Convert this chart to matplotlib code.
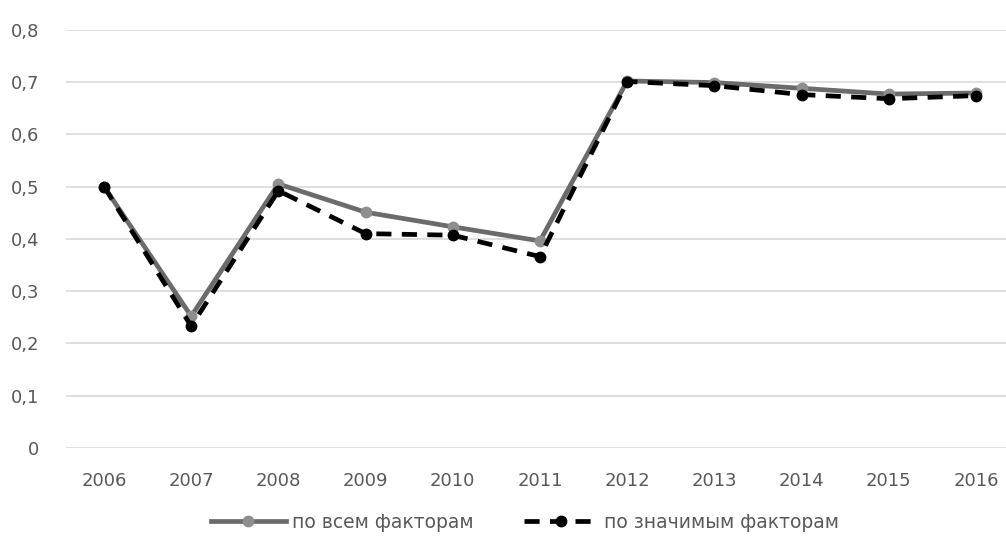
import matplotlib
matplotlib.use("Agg")
import matplotlib.pyplot as plt
from matplotlib.ticker import FuncFormatter

years = ["2006", "2007", "2008", "2009", "2010", "2011",
         "2012", "2013", "2014", "2015", "2016"]
all_factors = [0.500, 0.252, 0.505, 0.451, 0.423, 0.396,
               0.702, 0.699, 0.688, 0.677, 0.679]
significant = [0.500, 0.233, 0.492, 0.410, 0.407, 0.366,
               0.701, 0.693, 0.676, 0.668, 0.674]

plt.rcParams['font.family'] = ['DejaVu Sans']

fig = plt.figure(figsize=(10.06, 5.41), dpi=100)
ax = fig.add_axes([0.0656, 0.172, 0.9344, 0.773])

x = range(len(years))
ax.plot(x, all_factors, color='#6b6b6b', lw=3.4, marker='o', ms=7.5,
        markerfacecolor='#8e8e8e', markeredgecolor='#8e8e8e',
        label='по всем факторам', zorder=3)
ax.plot(x, significant, color='black', lw=3.4, ls=(0, (3.2, 2.2)), marker='o', ms=7.5,
        markerfacecolor='black', markeredgecolor='black',
        label='по значимым факторам', zorder=4)

ax.set_xlim(-0.436, 10.344)
ax.set_ylim(0, 0.8)
ax.set_yticks([i / 10 for i in range(9)])
ax.yaxis.set_major_formatter(FuncFormatter(
    lambda v, p: '0' if v == 0 else f'{v:.1f}'.replace('.', ',')))
ax.set_xticks(list(x))
ax.set_xticklabels(years)

ax.grid(axis='y', color='#d9d9d9', lw=1.2)
ax.set_axisbelow(True)
for s in ax.spines.values():
    s.set_visible(False)
ax.tick_params(length=0, labelsize=13, colors='#595959', pad=17)
ax.tick_params(axis='y', pad=19)

leg = fig.legend(loc='lower center', bbox_to_anchor=(0.522, -0.014), ncol=2,
                 frameon=False, fontsize=13.5, handlelength=4.0,
                 columnspacing=2.7, handletextpad=0.3)
for t in leg.get_texts():
    t.set_color('#595959')

fig.savefig('out.png', dpi=100, facecolor='white')
